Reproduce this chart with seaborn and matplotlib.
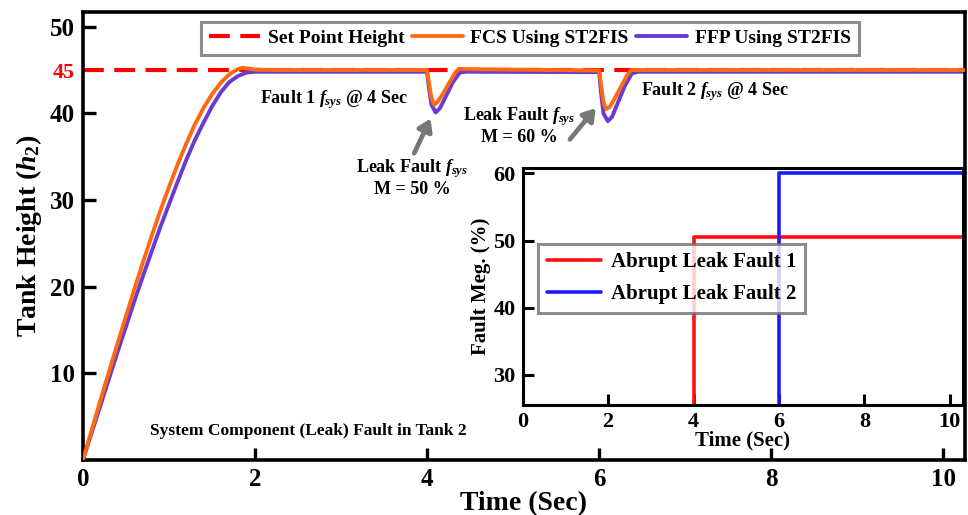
import numpy as np
import pandas as pd
import matplotlib
matplotlib.use('Agg')
import matplotlib.pyplot as plt
import seaborn as sns

# Tank 2 height, main plot
t_fcs = [0, 0.1, 0.2, 0.3, 0.4, 0.5, 0.6, 0.7, 0.8, 0.9, 1.0, 1.1, 1.2, 1.3, 1.4, 1.5,
         1.6, 1.7, 1.8, 1.85, 1.9, 2.0, 2.2, 4.0, 4.02, 4.05, 4.08, 4.12, 4.18, 4.25,
         4.32, 4.37, 4.45, 6.0, 6.02, 6.05, 6.08, 6.12, 6.18, 6.25, 6.32, 6.37, 6.45, 10.25]
h_fcs = [0, 3.4, 6.8, 10.1, 13.4, 16.6, 19.8, 22.9, 25.9, 28.8, 31.5, 34.1, 36.5, 38.7, 40.6, 42.2,
         43.5, 44.5, 45.1, 45.25, 45.2, 45.05, 45.0, 45.0, 43.6, 41.8, 41.0, 41.3, 42.2, 43.4,
         44.6, 45.15, 45.1, 44.95, 43.4, 41.3, 40.5, 40.7, 41.7, 43.0, 44.3, 45.0, 45.0, 45.0]

t_ffp = [0, 0.1, 0.2, 0.3, 0.4, 0.5, 0.6, 0.7, 0.8, 0.9, 1.0, 1.1, 1.2, 1.3, 1.4, 1.5,
         1.6, 1.7, 1.8, 1.9, 2.0, 4.0, 4.02, 4.05, 4.1, 4.15, 4.22, 4.3, 4.38, 4.45,
         6.0, 6.02, 6.05, 6.1, 6.15, 6.22, 6.3, 6.38, 6.45, 10.25]
h_ffp = [0, 3.1, 6.2, 9.3, 12.4, 15.4, 18.4, 21.3, 24.1, 26.9, 29.5, 32.1, 34.6, 36.9, 38.9, 40.8,
         42.4, 43.6, 44.3, 44.7, 44.8, 44.8, 43.0, 41.0, 40.1, 40.6, 42.0, 43.6, 44.7, 44.8,
         44.75, 42.5, 40.0, 39.1, 39.6, 41.3, 43.2, 44.6, 44.8, 44.8]

set_point = 45

# inset: fault magnitude
t_fault1 = [4.0, 4.0, 10.3]
m_fault1 = [0, 50.5, 50.5]
t_fault2 = [6.0, 6.0, 10.3]
m_fault2 = [0, 60, 60]

sns.set_style('ticks')
plt.rcParams['font.family'] = ['Liberation Serif', 'DejaVu Serif']
plt.rcParams['font.weight'] = 'bold'
plt.rcParams['axes.labelweight'] = 'bold'
for key in ['text.color', 'axes.labelcolor', 'xtick.color', 'ytick.color', 'axes.edgecolor']:
    plt.rcParams[key] = 'black'
plt.rcParams['mathtext.fontset'] = 'custom'
plt.rcParams['mathtext.rm'] = 'Liberation Serif:bold'
plt.rcParams['mathtext.it'] = 'Liberation Serif:italic:bold'
plt.rcParams['mathtext.bf'] = 'Liberation Serif:bold'

fig = plt.figure(figsize=(9.68, 5.15), dpi=100)
ax = fig.add_axes([0.0857, 0.1068, 0.911, 0.870])

ax.axhline(set_point, color='#ff0000', lw=3, dashes=(5, 2.5), label='Set Point Height', zorder=1)
df_fcs = pd.DataFrame({'t': t_fcs, 'h': h_fcs})
df_ffp = pd.DataFrame({'t': t_ffp, 'h': h_ffp})
sns.lineplot(data=df_fcs, x='t', y='h', ax=ax, color='#ff6a10', lw=2.8, sort=False,
             estimator=None, label='FCS Using ST2FIS', zorder=3)
sns.lineplot(data=df_ffp, x='t', y='h', ax=ax, color='#6a3bd4', lw=2.8, sort=False,
             estimator=None, label='FFP Using ST2FIS', zorder=2)

ax.set_xlim(0, 10.25)
ax.set_ylim(0, 51.7)
ax.set_xticks([0, 2, 4, 6, 8, 10])
ax.set_yticks([10, 20, 30, 40, 45, 50])
ax.tick_params(direction='in', length=9, width=2.4, labelsize=18, pad=6,
               top=False, right=False)
ylabels = ax.get_yticklabels()
ylabels[4].set_color('#ff0000')
ylabels[4].set_fontsize(16)
ax.yaxis.get_major_ticks()[4].tick1line.set_visible(False)
for s in ax.spines.values():
    s.set_linewidth(2.6)
ax.set_xlabel('Time (Sec)', fontsize=20, labelpad=0)
ax.set_ylabel('Tank Height ($h_2$)', fontsize=20, labelpad=4)

leg = ax.legend(loc='upper center', bbox_to_anchor=(0.507, 1.0), ncol=3, fontsize=14,
                frameon=True, fancybox=False, edgecolor='#6e6e6e', handlelength=2.6,
                handletextpad=0.4, columnspacing=0.4, borderpad=0.4)
leg.get_frame().set_linewidth(2.2)

# annotations
ax.text(2.92, 41.6, 'Fault 1 $f_{sys}$ @ 4 Sec', fontsize=13, ha='center', va='center')
ax.text(7.35, 42.5, 'Fault 2 $f_{sys}$ @ 4 Sec', fontsize=13, ha='center', va='center')
ax.text(3.83, 32.6, 'Leak Fault $f_{sys}$\nM = 50 %', fontsize=13, ha='center', va='center',
        linespacing=1.1)
ax.text(5.07, 38.6, 'Leak Fault $f_{sys}$\nM = 60 %', fontsize=13, ha='center', va='center',
        linespacing=1.1)
ax.text(2.62, 3.3, 'System Component (Leak) Fault in Tank 2', fontsize=12.5, ha='center', va='center')
arrow = dict(arrowstyle='-|>,head_width=0.45,head_length=0.7', lw=3.4, color='#777777',
             shrinkA=0, shrinkB=0)
ax.annotate('', xy=(4.04, 39.4), xytext=(3.85, 35.4), arrowprops=arrow)
ax.annotate('', xy=(5.96, 40.6), xytext=(5.66, 37.0), arrowprops=arrow)

# inset
axin = fig.add_axes([0.540, 0.2136, 0.4545, 0.460])
axin.set_facecolor('white')
df_f1 = pd.DataFrame({'t': t_fault1, 'm': m_fault1})
df_f2 = pd.DataFrame({'t': t_fault2, 'm': m_fault2})
sns.lineplot(data=df_f1, x='t', y='m', ax=axin, color='#ff1010', lw=2.6, sort=False,
             estimator=None, label='Abrupt Leak Fault 1')
sns.lineplot(data=df_f2, x='t', y='m', ax=axin, color='#1a1aff', lw=2.6, sort=False,
             estimator=None, label='Abrupt Leak Fault 2')
axin.set_xlim(0, 10.3)
axin.set_ylim(25.5, 60.8)
axin.set_xticks([0, 2, 4, 6, 8, 10])
axin.set_yticks([30, 40, 50, 60])
axin.tick_params(direction='in', length=8, width=2.2, labelsize=16, pad=5,
                 top=False, right=False)
for s in axin.spines.values():
    s.set_linewidth(2.2)
axin.set_xlabel('Time (Sec)', fontsize=15, labelpad=-1)
axin.set_ylabel('Fault Meg. (%)', fontsize=15, labelpad=2)
leg2 = axin.legend(loc='upper left', bbox_to_anchor=(0.012, 0.725), fontsize=15, frameon=True,
                   fancybox=False, edgecolor='#6e6e6e', handlelength=2.6, handletextpad=0.5,
                   borderpad=0.4, labelspacing=0.6)
leg2.get_frame().set_linewidth(2.2)
leg2.get_frame().set_facecolor((1, 1, 1, 0))

fig.savefig('out.png', dpi=100)
